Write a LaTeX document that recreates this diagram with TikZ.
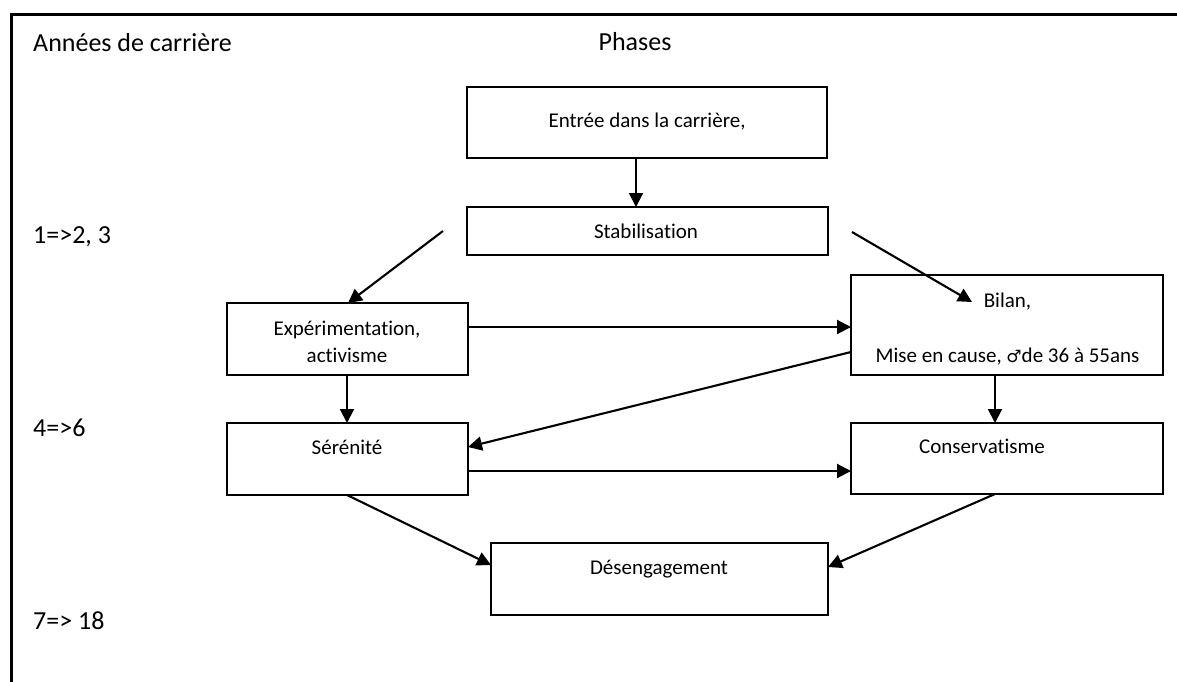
\documentclass[tikz,border=0pt]{standalone}
\usepackage{fontspec}
\setmainfont{Carlito}[Ligatures=NoCommon]
\newfontfamily\symfont{DejaVu Sans}
\usetikzlibrary{arrows.meta,calc}
\begin{document}
\begin{tikzpicture}[x=1pt,y=-1pt,
  box/.style={draw, line width=1.6pt, inner sep=0pt, outer sep=0pt, anchor=north west},
  txt/.style={inner sep=0pt, anchor=base, font=\fontsize{21}{27}\selectfont, align=center},
  lbl/.style={inner sep=0pt, anchor=base west, font=\fontsize{26}{32}\selectfont},
  arr/.style={line width=2.1pt, -{Triangle[length=14pt,width=14pt]}}]
\useasboundingbox (0,0) rectangle (1177,682);
% frame
\draw[line width=3pt] (11,682) -- (11,15) -- (1177,15);
% labels
\node[lbl] (annees) at (33,52) {Années de carrière};
\node[lbl, anchor=base] (phases) at (635,51) {Phases};
\node[lbl] (y1) at (33,243) {1=>2, 3};
\node[lbl] (y2) at (33,436) {4=>6};
\node[lbl] (y3) at (33,629) {7=> 18};
% boxes
\node[box, minimum width=360pt, minimum height=71pt] (entree) at (467,87) {};
\node[box, minimum width=361pt, minimum height=48pt] (stab) at (467,207) {};
\node[box, minimum width=241pt, minimum height=72pt] (exp) at (227,303) {};
\node[box, minimum width=312pt, minimum height=100pt] (bilan) at (851,275) {};
\node[box, minimum width=241pt, minimum height=72pt] (ser) at (227,423) {};
\node[box, minimum width=312pt, minimum height=71pt] (cons) at (851,423) {};
\node[box, minimum width=337pt, minimum height=72pt] (des) at (491,543) {};
% box texts
\node[txt] (entreeT) at (647,128) {Entrée dans la carrière,};
\node[txt] (stabT) at (646,238) {Stabilisation};
\node[txt] (expT) at (347,362) {Expérimentation,\\activisme};
\node[txt] (bilanT) at (1007.5,307) {Bilan,};
\node[txt] (bilanT2) at (1007.5,362) {Mise en cause, {\symfont\fontsize{17}{27}\selectfont ♂}de 36 à 55ans};
\node[txt] (serT) at (347,454) {Sérénité};
\node[txt] (consT) at (982,453) {Conservatisme};
\node[txt] (desT) at (659,574) {Désengagement};
% connectors
\coordinate (s2) at (443,231);
\coordinate (s3) at (852,232);
\draw[arr] ($(entree.south west)+(169,0)$) -- ($(stab.north west)+(169,0)$);
\draw[arr] (s2) -- ($(exp.north west)+(121,0)$);
\draw[arr] (s3) -- ($(bilan.north west)+(121,27)$);
\draw[arr] ($(exp.north east)+(0,24)$) -- ($(bilan.north west)+(0,52)$);
\draw[arr] ($(exp.south west)+(120,0)$) -- ($(ser.north west)+(120,0)$);
\draw[arr] ($(bilan.north west)+(0,77)$) -- ($(ser.north east)+(0,24)$);
\draw[arr] ($(bilan.south west)+(144,0)$) -- ($(cons.north west)+(144,0)$);
\draw[arr] ($(ser.north east)+(0,48)$) -- ($(cons.north west)+(0,48)$);
\draw[arr] ($(ser.south west)+(120,0)$) -- ($(des.north west)+(0,22)$);
\draw[arr] ($(cons.south west)+(144,0)$) -- ($(des.north east)+(0,24)$);
\end{tikzpicture}
\end{document}
